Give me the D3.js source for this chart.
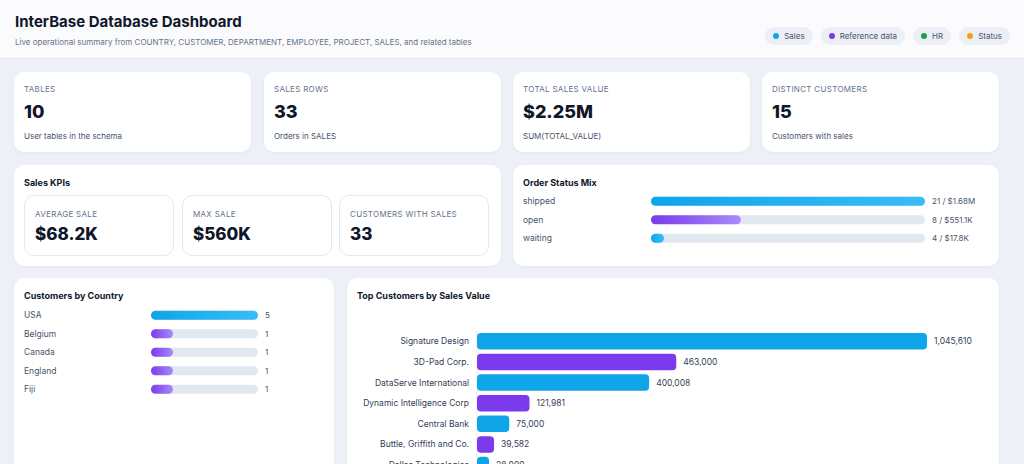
<!DOCTYPE html>
<html lang="en">
<head>
<meta charset="UTF-8">
<title>InterBase Database Dashboard</title>
<script src="https://d3js.org/d3.v7.min.js"></script>
<style>
  html, body { margin: 0; padding: 0; }
  body { background: #eef0f8; font-family: Inter, "Noto Sans", sans-serif; color: #0f172a; height: 800px; overflow-y: scroll; }
  .header { position: absolute; left: 0; top: 0; width: 100%; height: 58px; background: #fbfbfe; border-bottom: 1px solid #e4e7f0; }
  .title { position: absolute; left: 15px; top: 12px; font-size: 15px; font-weight: 700; }
  .sub { position: absolute; left: 15px; top: 37px; font-size: 8px; color: #64748b; }
  .legend { position: absolute; right: 14px; top: 27px; display: flex; gap: 8px; }
  .pill { background: #eceff6; border-radius: 10px; padding: 4px 8px; font-size: 8px; color: #475569; display: flex; align-items: center; gap: 5px; }
  .dot { width: 6px; height: 6px; border-radius: 50%; display: inline-block; }
  .card { position: absolute; background: #fff; border-radius: 10px; box-shadow: 0 1px 3px rgba(30,40,90,0.05); }
  .klabel { position: absolute; left: 10px; font-size: 8px; color: #64748b; letter-spacing: 0.3px; }
  .kval { position: absolute; left: 10px; font-size: 18px; font-weight: 800; }
  .knote { position: absolute; left: 10px; font-size: 8px; color: #475569; }
  .ctitle { position: absolute; left: 10px; top: 12px; font-size: 9px; font-weight: 700; }
  .sub-card { position: absolute; border: 1px solid #e5e7ef; border-radius: 10px; background: #fff; }
  svg text { font-family: Inter, "Noto Sans", sans-serif; }
</style>
</head>
<body>
<div id="root"></div>
<script>
const topKpiLabels = ["TABLES", "SALES ROWS", "TOTAL SALES VALUE", "DISTINCT CUSTOMERS"];
const topKpiValues = ["10", "33", "$2.25M", "15"];
const topKpiNotes = ["User tables in the schema", "Orders in SALES", "SUM(TOTAL_VALUE)", "Customers with sales"];
const salesKpiLabels = ["AVERAGE SALE", "MAX SALE", "CUSTOMERS WITH SALES"];
const salesKpiValues = ["$68.2K", "$560K", "33"];
const statusNames = ["shipped", "open", "waiting"];
const statusCounts = [21, 8, 4];
const statusAmounts = [1680000, 551100, 17800];
const statusValues = ["$1.68M", "$551.1K", "$17.8K"];
const countryNames = ["USA", "Belgium", "Canada", "England", "Fiji"];
const countryCounts = [5, 1, 1, 1, 1];
const customerNames = ["Signature Design", "3D-Pad Corp.", "DataServe International", "Dynamic Intelligence Corp",
  "Central Bank", "Buttle, Griffith and Co.", "Dallas Technologies"];
const customerValues = [1045610, 463000, 400008, 121981, 75000, 39582, 28000];
const legendNames = ["Sales", "Reference data", "HR", "Status"];
const legendColors = ["#0ea5e9", "#7c3aed", "#16a34a", "#f59e0b"];

const root = d3.select("#root");

// header
const header = root.append("div").attr("class", "header");
header.append("div").attr("class", "title").text("InterBase Database Dashboard");
header.append("div").attr("class", "sub")
  .text("Live operational summary from COUNTRY, CUSTOMER, DEPARTMENT, EMPLOYEE, PROJECT, SALES, and related tables");
const legend = header.append("div").attr("class", "legend");
legendNames.forEach((n, i) => {
  const p = legend.append("div").attr("class", "pill");
  p.append("span").attr("class", "dot").style("background", legendColors[i]);
  p.append("span").text(n);
});

function card(x, y, w, h) {
  return root.append("div").attr("class", "card")
    .style("left", x + "px").style("top", y + "px").style("width", w + "px").style("height", h + "px");
}

// top KPI cards
const kx = [14, 264, 513, 762];
topKpiLabels.forEach((l, i) => {
  const c = card(kx[i], 72, 237, 80);
  c.append("div").attr("class", "klabel").style("top", "12px").text(l);
  c.append("div").attr("class", "kval").style("top", "29px").text(topKpiValues[i]);
  c.append("div").attr("class", "knote").style("top", "59px").text(topKpiNotes[i]);
});

// sales KPIs
const sk = card(14, 165, 487, 101);
sk.append("div").attr("class", "ctitle").text("Sales KPIs");
const sx = [10, 168, 325];
salesKpiLabels.forEach((l, i) => {
  const s = sk.append("div").attr("class", "sub-card")
    .style("left", sx[i] + "px").style("top", "30px").style("width", "148px").style("height", "59px");
  s.append("div").attr("class", "klabel").style("top", "13px").text(l);
  s.append("div").attr("class", "kval").style("top", "28px").style("font-size", "17px").text(salesKpiValues[i]);
});

// gradients
const defs = root.append("svg").attr("width", 0).attr("height", 0).style("position", "absolute").append("defs");
[["gBlue", "#0ea5e9", "#38bdf8"], ["gPurple", "#7c3aed", "#a78bfa"]].forEach(([id, a, b]) => {
  const g = defs.append("linearGradient").attr("id", id);
  g.append("stop").attr("offset", "0%").attr("stop-color", a);
  g.append("stop").attr("offset", "100%").attr("stop-color", b);
});

function progressRows(parent, names, amounts, labels, opt) {
  const svg = parent.append("svg").attr("width", opt.w).attr("height", opt.h)
    .style("position", "absolute").style("left", 0).style("top", 0);
  const x = d3.scaleLinear().domain([0, d3.max(amounts)]).range([0, opt.barW]);
  const y = d3.scaleBand().domain(names).range([opt.y0, opt.y0 + opt.step * names.length]);
  const g = svg.selectAll("g").data(names).join("g")
    .attr("transform", d => `translate(0,${y(d) + y.bandwidth() / 2})`);
  g.append("text").attr("x", 10).attr("dy", "0.35em").attr("font-size", 8.5).attr("fill", "#475569").text(d => d);
  g.append("rect").attr("x", opt.bx).attr("y", -opt.bh / 2).attr("width", opt.barW).attr("height", opt.bh)
    .attr("rx", opt.bh / 2).attr("fill", "#e2e8f0");
  g.append("rect").attr("x", opt.bx).attr("y", -opt.bh / 2)
    .attr("width", (d, i) => Math.max(x(amounts[i]), opt.minW)).attr("height", opt.bh)
    .attr("rx", opt.bh / 2).attr("fill", (d, i) => `url(#${opt.colors[i]})`);
  g.append("text").attr("x", opt.bx + opt.barW + 7).attr("dy", "0.35em").attr("font-size", 8)
    .attr("fill", "#475569").text((d, i) => labels[i]);
}

// order status
const os = card(513, 165, 486, 101);
os.append("div").attr("class", "ctitle").text("Order Status Mix");
progressRows(os, statusNames, statusAmounts, statusCounts.map((c, i) => `${c} / ${statusValues[i]}`), {
  w: 486, h: 101, y0: 27, step: 18.5, bx: 138, barW: 274, bh: 9, minW: 13,
  colors: ["gBlue", "gPurple", "gBlue"]
});

// customers by country
const cc = card(14, 278, 320, 300);
cc.append("div").attr("class", "ctitle").text("Customers by Country");
progressRows(cc, countryNames, countryCounts, countryCounts.map(String), {
  w: 320, h: 150, y0: 28, step: 18.5, bx: 137, barW: 107, bh: 9, minW: 22,
  colors: ["gBlue", "gPurple", "gPurple", "gPurple", "gPurple"]
});

// top customers
const tc = card(347, 278, 652, 300);
tc.append("div").attr("class", "ctitle").text("Top Customers by Sales Value");
const tsvg = tc.append("svg").attr("width", 652).attr("height", 300)
  .style("position", "absolute").style("left", 0).style("top", 0);
const ml = 130;
const tx = d3.scaleLinear().domain([0, d3.max(customerValues)]).range([0, 450]);
const ty = d3.scaleBand().domain(customerNames).range([51, 51 + 21.2 * customerNames.length]).padding(0.2);
tsvg.append("line").attr("x1", ml).attr("x2", ml).attr("y1", 53).attr("y2", 300).attr("stroke", "#e2e8f0");
const tg = tsvg.selectAll("g.row").data(customerNames).join("g").attr("class", "row")
  .attr("transform", d => `translate(0,${ty(d)})`);
tg.append("rect").attr("x", ml).attr("width", (d, i) => Math.max(tx(customerValues[i]), 12))
  .attr("height", ty.bandwidth()).attr("rx", 4)
  .attr("fill", (d, i) => i % 2 ? "#7c3aed" : "#0ea5e9");
tg.append("text").attr("x", ml - 8).attr("y", ty.bandwidth() / 2).attr("dy", "0.35em")
  .attr("text-anchor", "end").attr("font-size", 8.5).attr("fill", "#334155").text(d => d);
tg.append("text").attr("x", (d, i) => ml + Math.max(tx(customerValues[i]), 12) + 7)
  .attr("y", ty.bandwidth() / 2).attr("dy", "0.35em").attr("font-size", 8.5).attr("fill", "#334155")
  .text((d, i) => d3.format(",")(customerValues[i]));
</script>
</body>
</html>
